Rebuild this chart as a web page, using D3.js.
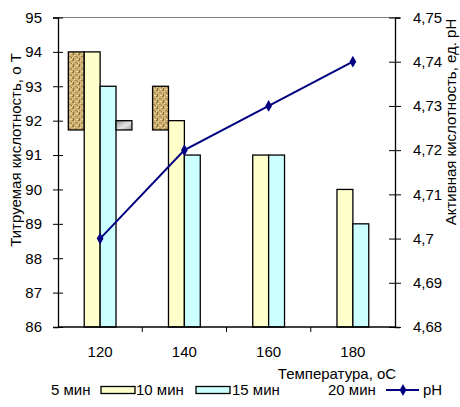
<!DOCTYPE html>
<html><head><meta charset="utf-8">
<script src="https://cdn.jsdelivr.net/npm/d3@7/dist/d3.min.js"></script>
<style>body{margin:0;background:#fff}svg{display:block;font-family:Arial,"Liberation Sans",sans-serif}</style>
</head><body><svg id="c" width="460" height="407"></svg>
<script>
const categories = ["120","140","160","180"];
const seriesNames = ["5 мин","10 мин","15 мин","20 мин"];
const min5  = [94, 93, null, null];
const min10 = [94, 92, 91, 90];
const min15 = [93, 91, 91, 89];
const min20 = [92, null, null, null];
const phValues = [4.70, 4.72, 4.73, 4.74];
const leftTicks = [86,87,88,89,90,91,92,93,94,95];
const rightTicks = [4.68,4.69,4.70,4.71,4.72,4.73,4.74,4.75];

const svg = d3.select("#c");
const L=58, R=395, T=17.5, B=327;
const x = d3.scaleBand().domain(categories).range([L,R]).padding(0);
const xs = d3.scaleBand().domain(seriesNames).range([0,x.bandwidth()]).paddingInner(0).paddingOuter(0.65);
const yL = d3.scaleLinear().domain([86,95]).range([B,T]);
const yR = d3.scaleLinear().domain([4.68,4.75]).range([B,T]);

const defs = svg.append("defs");
const pat = defs.append("pattern").attr("id","tex").attr("width",6).attr("height",6).attr("patternUnits","userSpaceOnUse");
pat.append("rect").attr("width",6).attr("height",6).attr("fill","#cfb173");
[[0,0,2,1,"#9a7a3c"],[3,2,2,1,"#a8884a"],[1,4,1,2,"#8c6c34"],[4,5,2,1,"#ecdcaa"],[2,1,1,1,"#eadbb0"],[5,3,1,1,"#957538"],[0,3,1,1,"#e6d4a0"]].forEach(d=>pat.append("rect").attr("x",d[0]).attr("y",d[1]).attr("width",d[2]).attr("height",d[3]).attr("fill",d[4]));
const grad = defs.append("linearGradient").attr("id","gry").attr("x1","0").attr("x2","1").attr("y1","0").attr("y2","1");
grad.append("stop").attr("offset","0").attr("stop-color","#8e8e8e");
grad.append("stop").attr("offset","0.55").attr("stop-color","#e4e4e4");
grad.append("stop").attr("offset","1").attr("stop-color","#9a9a9a");

// top border
svg.append("line").attr("x1",L).attr("x2",R).attr("y1",T).attr("y2",T).attr("stroke","#808080").attr("stroke-width",1);

const partialBase = 91.73;
const seriesData = [
  {name:"5 мин", values:min5, fill:"url(#tex)", base:partialBase},
  {name:"10 мин", values:min10, fill:"#ffffcc", base:86},
  {name:"15 мин", values:min15, fill:"#ccffff", base:86},
  {name:"20 мин", values:min20, fill:"url(#gry)", base:partialBase}
];
seriesData.forEach(s=>{
  svg.append("g").selectAll("rect").data(s.values.map((v,i)=>({v,c:categories[i]})).filter(d=>d.v!=null))
    .join("rect")
    .attr("x",d=>x(d.c)+xs(s.name))
    .attr("width",xs.bandwidth())
    .attr("y",d=>yL(d.v))
    .attr("height",d=>yL(s.base)-yL(d.v))
    .attr("fill",s.fill).attr("stroke","#000").attr("stroke-width",1.3);
});

// axes
const fs = "15px";
const gl = svg.append("g").attr("transform",`translate(${L},0)`)
  .call(d3.axisLeft(yL).tickValues(leftTicks).tickSize(5).tickPadding(11).tickFormat(d3.format("d")));
gl.selectAll(".tick line").attr("x1",5).attr("x2",-5);
const gr = svg.append("g").attr("transform",`translate(${R},0)`)
  .call(d3.axisRight(yR).tickValues(rightTicks).tickSize(5).tickPadding(13).tickFormat(d=>d3.format(".2~f")(d).replace(".",",")));
gr.selectAll(".tick line").attr("x1",-6).attr("x2",6);
const gb = svg.append("g").attr("transform",`translate(0,${B})`)
  .call(d3.axisBottom(x).tickSize(0).tickPadding(19));
// category boundary ticks
svg.append("g").selectAll("line").data(categories.slice(1)).join("line")
  .attr("x1",d=>x(d)).attr("x2",d=>x(d)).attr("y1",B).attr("y2",B+5).attr("stroke","#000");
[gl,gr,gb].forEach(g=>{g.select(".domain").attr("stroke","#000").attr("stroke-width",1.3);g.selectAll("text").attr("font-size",fs).attr("font-family","Arial, Liberation Sans").attr("fill","#000");g.selectAll(".tick line").attr("stroke","#000");});
gb.select(".domain").attr("d",`M${L},0H${R}`);

// pH line
const line = d3.line().x((d,i)=>x(categories[i])+x.bandwidth()/2).y(d=>yR(d));
svg.append("path").datum(phValues).attr("d",line).attr("fill","none").attr("stroke","#000080").attr("stroke-width",2);
svg.append("g").selectAll("path").data(phValues).join("path")
  .attr("transform",(d,i)=>`translate(${x(categories[i])+x.bandwidth()/2},${yR(d)})`)
  .attr("d",d3.symbol(d3.symbolDiamond,40)).attr("fill","#000080");

// titles
svg.append("text").attr("transform","translate(21,150) rotate(-90)").attr("text-anchor","middle").attr("font-size",fs).text("Титруемая кислотность, о Т");
svg.append("text").attr("transform","translate(456,122) rotate(-90)").attr("text-anchor","middle").attr("font-size",fs).text("Активная кислотность, ед. pH");
svg.append("text").attr("x",337).attr("y",379).attr("text-anchor","middle").attr("font-size",fs).text("Температура, оС");

// legend
const ly = 390;
const lg = svg.append("g").attr("font-size",fs);
lg.append("text").attr("x",51).attr("y",ly+5).text(seriesNames[0]);
lg.append("rect").attr("x",101).attr("y",ly-3.5).attr("width",34).attr("height",7).attr("fill","#ffffcc").attr("stroke","#000").attr("stroke-width",1.3);
lg.append("text").attr("x",136).attr("y",ly+5).text(seriesNames[1]);
lg.append("rect").attr("x",196).attr("y",ly-3.5).attr("width",34).attr("height",7).attr("fill","#ccffff").attr("stroke","#000").attr("stroke-width",1.3);
lg.append("text").attr("x",232).attr("y",ly+5).text(seriesNames[2]);
lg.append("text").attr("x",328).attr("y",ly+5).text(seriesNames[3]);
lg.append("line").attr("x1",386).attr("x2",419).attr("y1",ly).attr("y2",ly).attr("stroke","#000080").attr("stroke-width",2);
lg.append("path").attr("transform",`translate(403,${ly})`).attr("d",d3.symbol(d3.symbolDiamond,40)).attr("fill","#000080");
lg.append("text").attr("x",423).attr("y",ly+5).text("pH");
</script></body></html>
